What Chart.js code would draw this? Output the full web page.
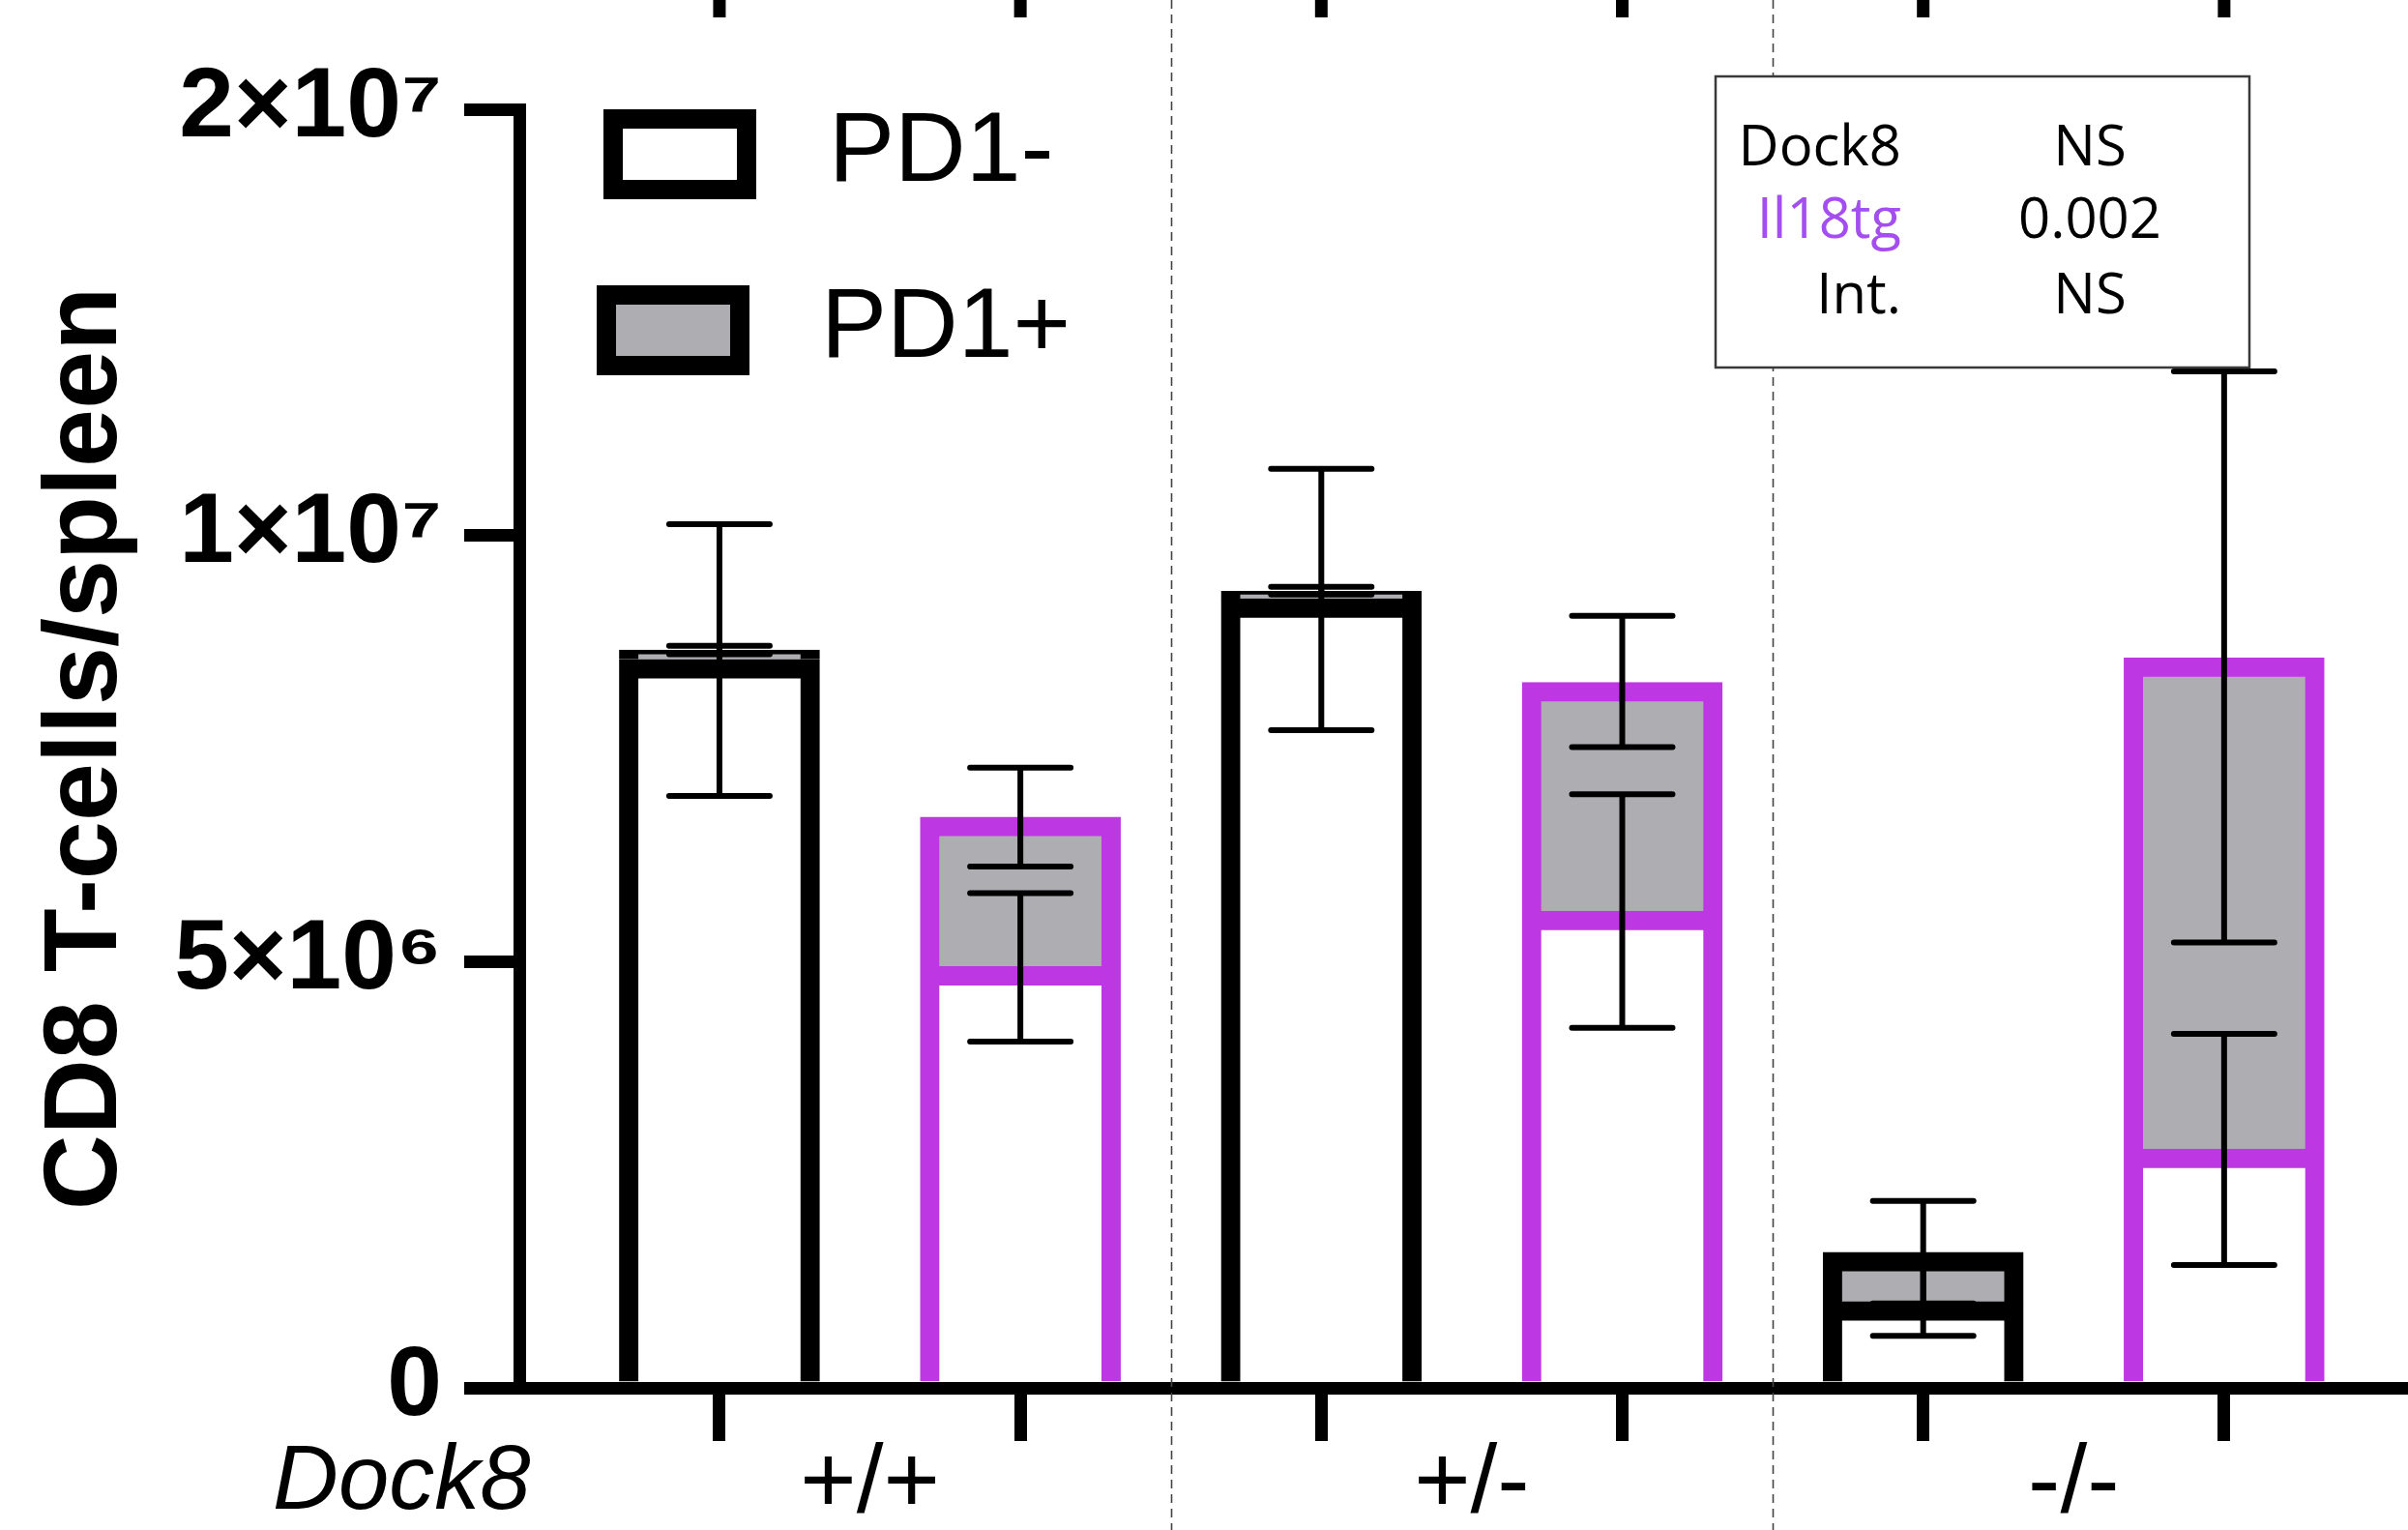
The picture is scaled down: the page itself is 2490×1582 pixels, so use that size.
<!DOCTYPE html>
<html>
<head>
<meta charset="utf-8">
<script src="https://cdn.jsdelivr.net/npm/chart.js@4.4.1/dist/chart.umd.min.js"></script>
<style>
html,body{margin:0;padding:0;background:#ffffff;}
#wrap{width:2490px;height:1582px;position:relative;}
</style>
</head>
<body>
<div id="wrap"><canvas id="c"></canvas></div>
<script>
// ---------------- data ----------------
const groupLabels = ['+/+', '+/-', '-/-'];
const groupPositions = [0.5, 2.5, 4.5];
const barGenotype = ['WT', 'Il18tg', 'WT', 'Il18tg', 'WT', 'Il18tg'];
const pd1Neg = [8.54e6, 4.94e6, 9.25e6, 5.59e6, 1.01e6, 2.80e6];
const pd1Pos = [0.11e6, 1.75e6, 0.09e6, 2.68e6, 0.58e6, 5.76e6];
const pd1NegErrLow  = [6.94e6, 4.06e6, 7.71e6, 4.22e6, 0.61e6, 1.44e6];
const pd1NegErrHigh = [10.25e6, 5.80e6, 11.55e6, 6.96e6, 1.41e6, 4.15e6];
const totalErrLow   = [8.60e6, 6.11e6, 9.30e6, 7.51e6, 0.99e6, 5.22e6];
const totalErrHigh  = [8.70e6, 7.27e6, 9.39e6, 9.05e6, 2.19e6, 13.84e6];
const yTicks = [0, 5e6, 1e7, 2e7];
const yTickLabels = ['0', '5×10⁶', '1×10⁷', '2×10⁷'];
const statsRows = [['Dock8', 'NS'], ['Il18tg', '0.002'], ['Int.', 'NS']];

// ---------------- styles ----------------
const PURPLE = '#bd38e2';
const GREY = '#aeadb2';
const genotypeColor = {WT: '#000000', Il18tg: PURPLE};
const barBorders = barGenotype.map(g => genotypeColor[g]);

// segmented y axis: 0..1e7 takes 2/3 of the height, 1e7..2e7 the last 1/3
const Y_BREAK = 1e7, Y_MAX = 2e7, BREAK_FRAC = 882 / 1322;
function valueToDecimal(v) {
  if (v <= Y_BREAK) return v / Y_BREAK * BREAK_FRAC;
  return BREAK_FRAC + (v - Y_BREAK) / (Y_MAX - Y_BREAK) * (1 - BREAK_FRAC);
}
function decimalToValue(d) {
  if (d <= BREAK_FRAC) return d / BREAK_FRAC * Y_BREAK;
  return Y_BREAK + (d - BREAK_FRAC) / (1 - BREAK_FRAC) * (Y_MAX - Y_BREAK);
}
class SegmentedScale extends Chart.LinearScale {
  getPixelForValue(value) {
    if (value === null || value === undefined || isNaN(value)) return NaN;
    return this.getPixelForDecimal(valueToDecimal(value));
  }
  getValueForPixel(pixel) {
    return decimalToValue(this.getDecimalForPixel(pixel));
  }
}
SegmentedScale.id = 'segmented';
SegmentedScale.defaults = Chart.LinearScale.defaults;
Chart.register(SegmentedScale);

const X_MIN = -0.665, X_MAX = 5.611;

// error bars plugin
const errorBars = {
  id: 'errorBars',
  afterDatasetsDraw(chart) {
    const xs = chart.scales.x, ys = chart.scales.y, ctx = chart.ctx;
    ctx.save();
    ctx.strokeStyle = '#000';
    ctx.lineWidth = 6;
    for (let i = 0; i < pd1Neg.length; i++) {
      const x = xs.getPixelForValue(i);
      const pairs = [[pd1NegErrLow[i], pd1NegErrHigh[i]], [totalErrLow[i], totalErrHigh[i]]];
      for (const [lo, hi] of pairs) {
        const y1 = ys.getPixelForValue(lo), y2 = ys.getPixelForValue(hi);
        ctx.lineCap = 'butt';
        ctx.beginPath(); ctx.moveTo(x, y1); ctx.lineTo(x, y2); ctx.stroke();
        ctx.lineCap = 'round';
        ctx.beginPath();
        ctx.moveTo(x - 52, y1); ctx.lineTo(x + 52, y1);
        ctx.moveTo(x - 52, y2); ctx.lineTo(x + 52, y2);
        ctx.stroke();
      }
    }
    ctx.restore();
  }
};

// separators, cut-off ticks of the panel above, Dock8 label, legend, stats box
const decorations = {
  id: 'decorations',
  beforeDatasetsDraw(chart) {
    const xs = chart.scales.x, ctx = chart.ctx;
    ctx.save();
    ctx.strokeStyle = '#444';
    ctx.lineWidth = 1.6;
    ctx.setLineDash([9, 6]);
    for (const v of [1.5, 3.5]) {
      const x = Math.round(xs.getPixelForValue(v)) + 0.5;
      ctx.beginPath(); ctx.moveTo(x, 0); ctx.lineTo(x, chart.height); ctx.stroke();
    }
    ctx.setLineDash([]);
    ctx.strokeStyle = '#000';
    ctx.lineWidth = 13;
    for (let i = 0; i < pd1Neg.length; i++) {
      const x = xs.getPixelForValue(i);
      ctx.beginPath(); ctx.moveTo(x, 0); ctx.lineTo(x, 18); ctx.stroke();
    }
    ctx.fillStyle = '#000';
    ctx.font = 'italic 94px "Liberation Sans", Arial, sans-serif';
    ctx.textAlign = 'left';
    ctx.textBaseline = 'alphabetic';
    ctx.fillText('Dock8', 282, 1560);
    ctx.restore();
  },
  afterDraw(chart) {
    const ctx = chart.ctx;
    ctx.save();
    // legend
    const legendItems = [
      {ds: 0, box: [624, 113, 158, 93], tx: 857, ty: 159},
      {ds: 1, box: [617, 295, 158, 93], tx: 849, ty: 341}
    ];
    for (const it of legendItems) {
      const d = chart.data.datasets[it.ds];
      const [bx, by, bw, bh] = it.box, bwid = 20;
      ctx.fillStyle = '#000';
      ctx.fillRect(bx, by, bw, bh);
      ctx.fillStyle = d.backgroundColor;
      ctx.fillRect(bx + bwid, by + bwid, bw - 2 * bwid, bh - 2 * bwid);
      ctx.fillStyle = '#000';
      ctx.font = '102px "Liberation Sans", Arial, sans-serif';
      ctx.textAlign = 'left';
      ctx.textBaseline = 'middle';
      ctx.fillText(d.label, it.tx, it.ty);
    }
    // stats box
    ctx.fillStyle = '#fff';
    ctx.fillRect(1774, 79, 552, 301);
    ctx.strokeStyle = '#3a3a3a';
    ctx.lineWidth = 2.5;
    ctx.strokeRect(1774, 79, 552, 301);
    ctx.font = '58px "Open Sans", "Noto Sans", sans-serif';
    ctx.textBaseline = 'alphabetic';
    const baselines = [171, 246, 324];
    statsRows.forEach((row, r) => {
      ctx.fillStyle = row[0] === 'Il18tg' ? '#a44ef0' : '#000';
      ctx.textAlign = 'right';
      ctx.fillText(row[0], 1966, baselines[r]);
      ctx.fillStyle = '#000';
      ctx.textAlign = 'center';
      ctx.fillText(row[1], 2161, baselines[r]);
    });
    ctx.restore();
  }
};

const idx = pd1Neg.map((_, i) => i);
new Chart(document.getElementById('c'), {
  type: 'bar',
  data: {
    datasets: [
      {
        label: 'PD1-',
        data: idx.map(i => ({x: i, y: pd1Neg[i]})),
        backgroundColor: '#ffffff',
        borderColor: barBorders,
        borderWidth: 20,
        borderSkipped: 'start',
        barThickness: 207,
        xAxisID: 'x', yAxisID: 'y'
      },
      {
        label: 'PD1+',
        data: idx.map(i => ({x: i, y: pd1Pos[i]})),
        backgroundColor: GREY,
        borderColor: barBorders,
        borderWidth: 20,
        borderSkipped: 'start',
        barThickness: 207,
        xAxisID: 'x', yAxisID: 'y'
      }
    ]
  },
  options: {
    responsive: true,
    maintainAspectRatio: false,
    animation: false,
    layout: {padding: {top: 113, left: 0, right: 0, bottom: 0}},
    plugins: {legend: {display: false}, tooltip: {enabled: false}, title: {display: false}},
    scales: {
      x: {
        type: 'linear', position: 'bottom', stacked: true,
        min: X_MIN, max: X_MAX, offset: false,
        afterBuildTicks: s => { s.ticks = idx.map(v => ({value: v})); },
        afterFit: s => { s.height = 20; },
        ticks: {display: false},
        grid: {display: true, offset: false, drawOnChartArea: false, drawTicks: true, tickLength: 55, lineWidth: 13, color: '#000'},
        border: {display: true, width: 13, color: '#000'}
      },
      x2: {
        type: 'linear', position: 'bottom',
        min: X_MIN, max: X_MAX, offset: false,
        afterBuildTicks: s => { s.ticks = groupPositions.map(v => ({value: v})); },
        afterFit: s => { s.height = 127; },
        ticks: {
          autoSkip: false, maxRotation: 0, padding: 13, color: '#000',
          font: {family: '"Liberation Sans", Arial, sans-serif', size: 100},
          callback: (v) => { const k = groupPositions.indexOf(v); return k >= 0 ? groupLabels[k] : ''; }
        },
        grid: {display: false, offset: false},
        border: {display: false}
      },
      y: {
        type: 'segmented', position: 'left', stacked: true,
        min: 0, max: Y_MAX,
        afterBuildTicks: s => { s.ticks = yTicks.map(v => ({value: v})); },
        afterFit: s => { s.width = 537; },
        ticks: {
          padding: 23, color: '#000', autoSkip: false,
          font: {family: '"Liberation Sans", Arial, sans-serif', size: 102, weight: 'bold'},
          callback: (v) => { const k = yTicks.indexOf(v); return k >= 0 ? yTickLabels[k] : ''; }
        },
        grid: {display: true, drawOnChartArea: false, drawTicks: true, tickLength: 57, lineWidth: 13, color: '#000'},
        border: {display: true, width: 13, color: '#000'},
        title: {
          display: true, text: 'CD8 T-cells/spleen', color: '#000',
          font: {family: '"Liberation Sans", Arial, sans-serif', size: 108, weight: 'bold'},
          padding: {top: 25, bottom: 0}
        }
      }
    }
  },
  plugins: [decorations, errorBars]
});
</script>
</body>
</html>
